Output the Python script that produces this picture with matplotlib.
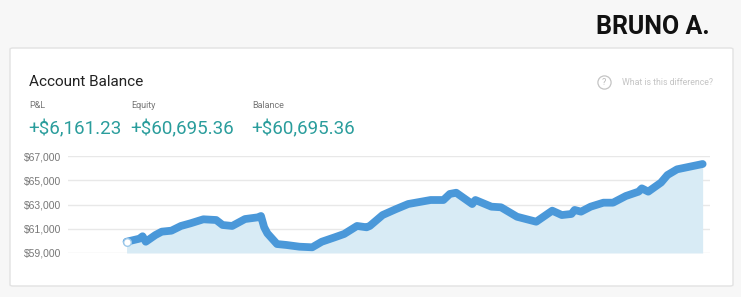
import matplotlib.pyplot as plt
from matplotlib.patches import FancyBboxPatch
from matplotlib.lines import Line2D

# account balance
days = [0, 4, 5, 6, 9, 11, 14, 17, 20, 24, 28, 30, 33, 37, 41, 42, 43, 44, 47, 50,
        54, 58, 61, 65, 68, 72, 75, 76, 80, 84, 88, 95, 99, 101, 103, 108, 109, 114,
        117, 122, 128, 133, 136, 139, 140, 142, 145, 149, 152, 156, 160, 161, 163,
        167, 169, 172, 176, 180]
balance = [59930, 60180, 60380, 59930, 60480, 60760, 60840, 61230, 61450, 61780,
           61720, 61310, 61230, 61800, 61940, 62050, 61120, 60620, 59740, 59660,
           59520, 59470, 59930, 60290, 60570, 61230, 61120, 61230, 62130, 62600,
           63040, 63370, 63370, 63870, 63970, 63040, 63370, 62820, 62770, 61990,
           61580, 62490, 62130, 62220, 62550, 62410, 62820, 63150, 63150, 63700,
           64060, 64330, 64060, 64810, 65430, 65900, 66120, 66340]
y_ticks = [59000, 61000, 63000, 65000, 67000]

stat_labels = ['P&L', 'Equity', 'Balance']
stat_values = ['+$6,161.23', '+$60,695.36', '+$60,695.36']

line_color = '#4a98d9'
fill_color = '#d8ebf5'
teal = '#2a9d9c'

fig = plt.figure(figsize=(7.41, 2.97), dpi=100, facecolor='#f7f7f7')

# card
card = FancyBboxPatch((10 / 741, 1 - 286 / 297), 723 / 741, 238 / 297,
                      boxstyle='round,pad=0,rounding_size=0.004',
                      transform=fig.transFigure, facecolor='white',
                      edgecolor='#e2e2e2', linewidth=1, zorder=-10)
fig.patches.append(card)

fig.text(710 / 741, 1 - 27 / 297, 'BRUNO A.', family='Roboto', weight='bold',
         fontsize=18, ha='right', va='center', color='#111111')
fig.text(29 / 741, 1 - 82 / 297, 'Account Balance', family='Roboto',
         fontsize=11, ha='left', va='center', color='#222222')
fig.text(713 / 741, 1 - 82 / 297, 'What is this difference?', family='Roboto',
         fontsize=6.3, ha='right', va='center', color='#c4c4c4')
fig.add_artist(Line2D([604 / 741], [1 - 82 / 297], marker='o', markersize=9.5,
                      markerfacecolor='none', markeredgecolor='#c4c4c4',
                      markeredgewidth=0.9, transform=fig.transFigure))
fig.text(604 / 741, 1 - 82 / 297, '?', family='Roboto', fontsize=6.5,
         ha='center', va='center', color='#b8b8b8')

stat_x = [29, 131, 252]
for x, lab, val in zip(stat_x, stat_labels, stat_values):
    fig.text(x / 741, 1 - 106 / 297, lab, family='Roboto', fontsize=6.5,
             ha='left', va='center', color='#777777')
    fig.text((x - 1) / 741, 1 - 129 / 297, val, family='Roboto',
             fontsize=13.5, ha='left', va='center', color=teal)

ax = fig.add_axes([68 / 741, 1 - 253 / 297, 642 / 741, 97 / 297])
ax.set_facecolor('none')
ax.fill_between(days, balance, y_ticks[0], color=fill_color, linewidth=0)
ax.plot(days, balance, color=line_color, linewidth=5.6, solid_capstyle='round',
        solid_joinstyle='round', clip_on=False)
ax.plot(days[0], balance[0], 'o', markersize=5.5, markerfacecolor='white',
        markeredgecolor='#9cc8ea', markeredgewidth=1, clip_on=False)

ax.set_xlim(-18.3, 182.3)
ax.set_ylim(59000, 67000)
ax.set_yticks(y_ticks)
ax.set_yticklabels([f'${v:,}' for v in y_ticks], family='Liberation Sans',
                   fontsize=7.5, color='#777777')
ax.set_xticks([])
ax.tick_params(axis='y', length=0, pad=5)
ax.grid(axis='y', color='#e8e8e8', linewidth=1)
ax.set_axisbelow(True)
for s in ax.spines.values():
    s.set_visible(False)

fig.savefig('out.png', dpi=100, facecolor=fig.get_facecolor())
